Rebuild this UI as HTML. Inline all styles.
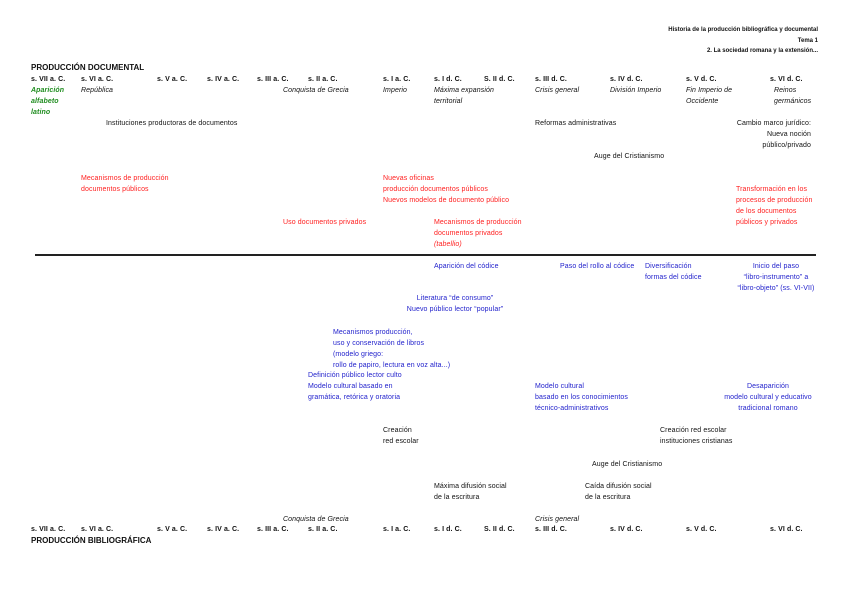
<!DOCTYPE html>
<html><head><meta charset="utf-8"><style>
body{margin:0;width:848px;height:600px;background:#fff;position:relative;overflow:hidden;font-family:"Liberation Sans",sans-serif;font-size:7px;letter-spacing:0.1px;color:#111}
.t{position:absolute;white-space:nowrap;line-height:11px}
.b{font-weight:bold}
.i{font-style:italic}
.g{color:#1e8c1e;font-style:italic;font-weight:bold}
.r{color:#ff2020}
.u{color:#2222cc}
.h{font-weight:bold;font-size:8px;letter-spacing:0}
.ra{text-align:right}
.c{text-align:center}
</style></head><body>
<div class="t ra" style="right:30px;top:25px;font-size:6px;letter-spacing:0;font-weight:bold;line-height:10.5px">Historia de la producción bibliográfica y documental<br>Tema 1<br>2. La sociedad romana y la extensión...</div>

<div class="t h" style="left:31px;top:62px">PRODUCCIÓN DOCUMENTAL</div>
<div class="t b" style="left:31px;top:74px">s. VII a. C.</div>
<div class="t b" style="left:81px;top:74px">s. VI a. C.</div>
<div class="t b" style="left:157px;top:74px">s. V a. C.</div>
<div class="t b" style="left:207px;top:74px">s. IV a. C.</div>
<div class="t b" style="left:257px;top:74px">s. III a. C.</div>
<div class="t b" style="left:308px;top:74px">s. II a. C.</div>
<div class="t b" style="left:383px;top:74px">s. I a. C.</div>
<div class="t b" style="left:434px;top:74px">s. I d. C.</div>
<div class="t b" style="left:484px;top:74px">S. II d. C.</div>
<div class="t b" style="left:535px;top:74px">s. III d. C.</div>
<div class="t b" style="left:610px;top:74px">s. IV d. C.</div>
<div class="t b" style="left:686px;top:74px">s. V d. C.</div>
<div class="t b" style="left:770px;top:74px">s. VI d. C.</div>

<div class="t g" style="left:31px;top:85px">Aparición<br>alfabeto<br>latino</div>
<div class="t i" style="left:81px;top:85px">República</div>
<div class="t i" style="left:283px;top:85px">Conquista de Grecia</div>
<div class="t i" style="left:383px;top:85px">Imperio</div>
<div class="t i" style="left:434px;top:85px">Máxima expansión<br>territorial</div>
<div class="t i" style="left:535px;top:85px">Crisis general</div>
<div class="t i" style="left:610px;top:85px">División Imperio</div>
<div class="t i" style="left:686px;top:85px">Fin Imperio de<br>Occidente</div>
<div class="t i" style="left:774px;top:85px">Reinos<br>germánicos</div>

<div class="t" style="left:106px;top:118px">Instituciones productoras de documentos</div>
<div class="t" style="left:535px;top:118px">Reformas administrativas</div>
<div class="t ra" style="right:37px;top:118px">Cambio marco jurídico:<br>Nueva noción<br>público/privado</div>
<div class="t" style="left:594px;top:151px">Auge del Cristianismo</div>

<div class="t r" style="left:81px;top:173px">Mecanismos de producción<br>documentos públicos</div>
<div class="t r" style="left:383px;top:173px">Nuevas oficinas<br>producción documentos públicos<br>Nuevos modelos de documento público</div>
<div class="t r" style="left:736px;top:184px">Transformación en los<br>procesos de producción<br>de los documentos<br>públicos y privados</div>
<div class="t r" style="left:283px;top:217px">Uso documentos privados</div>
<div class="t r" style="left:434px;top:217px">Mecanismos de producción<br>documentos privados<br><i>(tabellio)</i></div>

<div style="position:absolute;left:35px;top:254px;width:781px;height:2px;background:#222"></div>

<div class="t u" style="left:434px;top:261px">Aparición del códice</div>
<div class="t u" style="left:560px;top:261px">Paso del rollo al códice</div>
<div class="t u" style="left:645px;top:261px">Diversificación<br>formas del códice</div>
<div class="t u c" style="left:733px;width:86px;top:261px">Inicio del paso<br>“libro-instrumento” a<br>“libro-objeto” (ss. VI-VII)</div>
<div class="t u c" style="left:393px;width:124px;top:293px">Literatura “de consumo”<br>Nuevo público lector “popular”</div>
<div class="t u" style="left:333px;top:327px">Mecanismos producción,<br>uso y conservación de libros<br>(modelo griego:<br>rollo de papiro, lectura en voz alta...)</div>
<div class="t u" style="left:308px;top:370px">Definición público lector culto<br>Modelo cultural basado en<br>gramática, retórica y oratoria</div>
<div class="t u" style="left:535px;top:381px">Modelo cultural<br>basado en los conocimientos<br>técnico-administrativos</div>
<div class="t u c" style="left:718px;width:100px;top:381px">Desaparición<br>modelo cultural y educativo<br>tradicional romano</div>

<div class="t" style="left:383px;top:425px">Creación<br>red escolar</div>
<div class="t" style="left:660px;top:425px">Creación red escolar<br>instituciones cristianas</div>
<div class="t" style="left:592px;top:459px">Auge del Cristianismo</div>
<div class="t" style="left:434px;top:481px">Máxima difusión social<br>de la escritura</div>
<div class="t" style="left:585px;top:481px">Caída difusión social<br>de la escritura</div>

<div class="t i" style="left:283px;top:514px">Conquista de Grecia</div>
<div class="t i" style="left:535px;top:514px">Crisis general</div>
<div class="t b" style="left:31px;top:524px">s. VII a. C.</div>
<div class="t b" style="left:81px;top:524px">s. VI a. C.</div>
<div class="t b" style="left:157px;top:524px">s. V a. C.</div>
<div class="t b" style="left:207px;top:524px">s. IV a. C.</div>
<div class="t b" style="left:257px;top:524px">s. III a. C.</div>
<div class="t b" style="left:308px;top:524px">s. II a. C.</div>
<div class="t b" style="left:383px;top:524px">s. I a. C.</div>
<div class="t b" style="left:434px;top:524px">s. I d. C.</div>
<div class="t b" style="left:484px;top:524px">S. II d. C.</div>
<div class="t b" style="left:535px;top:524px">s. III d. C.</div>
<div class="t b" style="left:610px;top:524px">s. IV d. C.</div>
<div class="t b" style="left:686px;top:524px">s. V d. C.</div>
<div class="t b" style="left:770px;top:524px">s. VI d. C.</div>
<div class="t h" style="left:31px;top:535px">PRODUCCIÓN BIBLIOGRÁFICA</div>
</body></html>
